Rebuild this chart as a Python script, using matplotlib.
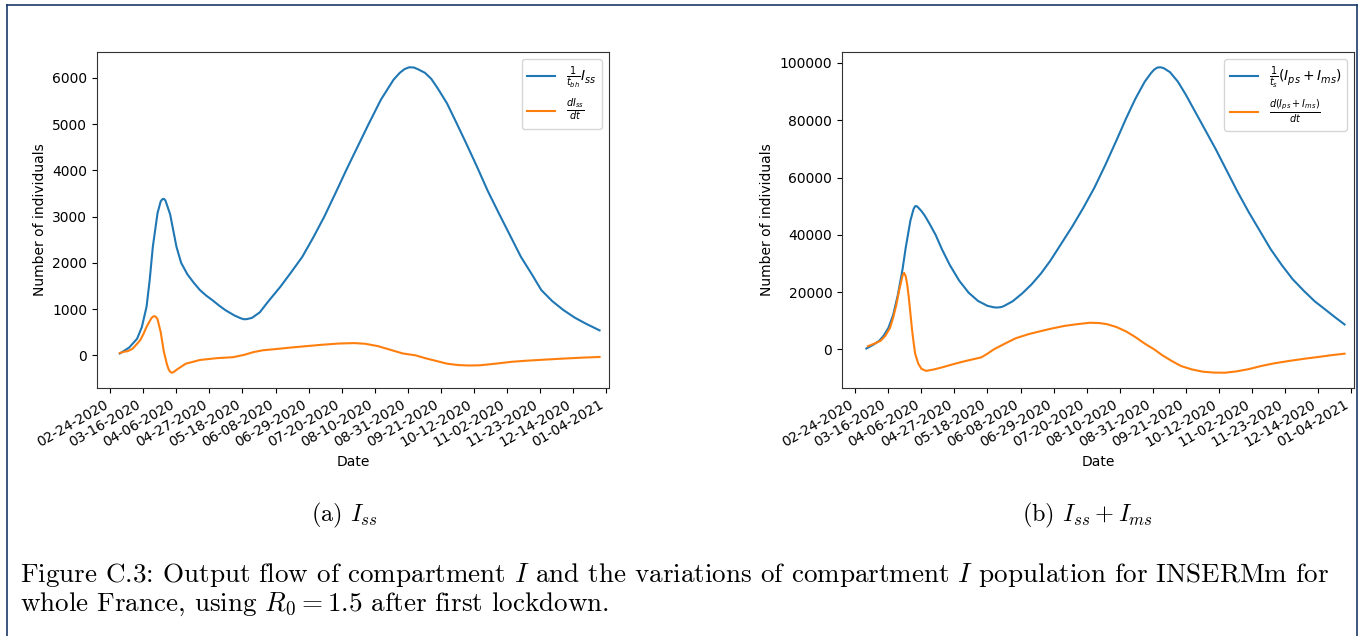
import numpy as np
import pandas as pd
import matplotlib
matplotlib.use('Agg')
import matplotlib.pyplot as plt
from matplotlib.lines import Line2D

start = pd.Timestamp('2020-02-24')

tick_labels = ['02-24-2020', '03-16-2020', '04-06-2020', '04-27-2020', '05-18-2020',
               '06-08-2020', '06-29-2020', '07-20-2020', '08-10-2020', '08-31-2020',
               '09-21-2020', '10-12-2020', '11-02-2020', '11-23-2020', '12-14-2020',
               '01-04-2021']

# (a) I_ss  -- days since 02-24-2020
a_blue_day = [6, 12, 17, 20, 23, 25, 27, 30, 32, 33, 34, 35, 36, 38, 40, 42, 45, 49, 53, 57,
              61, 65, 69, 73, 79, 83, 85, 87, 90, 95, 100, 108, 115, 122, 129, 136, 143, 150,
              157, 164, 172, 180, 184, 187, 190, 193, 196, 200, 204, 208, 214, 219, 226,
              233, 240, 247, 254, 261, 268, 274, 281, 288, 295, 302, 311]
a_blue_val = [40, 170, 360, 610, 1050, 1630, 2350, 3080, 3330, 3375, 3385, 3350, 3250, 3050,
              2700, 2350, 2000, 1750, 1570, 1410, 1290, 1190, 1080, 980, 860, 800, 780, 785,
              810, 930, 1150, 1480, 1800, 2130, 2550, 3000, 3500, 4010, 4500, 4990, 5530,
              5960, 6110, 6190, 6230, 6225, 6180, 6110, 5980, 5780, 5450, 5100, 4600, 4085,
              3550, 3070, 2600, 2130, 1750, 1410, 1170, 980, 820, 690, 540]
a_orange_day = [6, 9, 11, 14, 17, 19, 21, 23, 25, 26, 27, 28, 29, 30, 32, 34, 36, 37, 38, 39,
                40, 41, 43, 48, 57, 68, 78, 85, 91, 97, 105, 115, 125, 135, 145, 155, 162,
                170, 178, 186, 194, 200, 207, 214, 221, 228, 235, 245, 255, 265, 275, 288,
                300, 311]
a_orange_val = [50, 80, 90, 140, 250, 330, 460, 615, 740, 800, 835, 848, 830, 780, 500, 80,
                -200, -300, -355, -376, -365, -340, -290, -180, -100, -60, -40, 10, 70, 110,
                135, 170, 200, 230, 255, 265, 250, 200, 120, 40, 0, -60, -120, -180, -210,
                -220, -215, -180, -140, -115, -95, -70, -50, -35]

# (b) I_ss + I_ms
b_blue_day = [7, 11, 15, 18, 21, 24, 27, 30, 32, 35, 37, 38, 39, 40, 42, 44, 47, 51, 55, 60,
              66, 72, 78, 84, 88, 90, 93, 95, 100, 106, 112, 118, 124, 131, 138, 145, 152,
              159, 166, 172, 178, 184, 188, 190, 192, 194, 196, 200, 205, 210, 216, 222,
              229, 236, 243, 250, 257, 264, 271, 278, 285, 292, 299, 305, 311]
b_blue_val = [300, 1500, 2900, 4800, 7500, 12000, 19000, 28000, 35500, 45000, 49000, 50000,
              50000, 49500, 48300, 46800, 44000, 40000, 35000, 29500, 24000, 19800, 16900,
              15200, 14700, 14600, 14800, 15300, 16800, 19500, 22700, 26500, 31000, 37000,
              43000, 49500, 56500, 64500, 73000, 80500, 87500, 93500, 96500, 97700, 98400,
              98500, 98200, 96800, 93500, 89000, 83000, 77000, 70000, 62500, 55000, 48000,
              41500, 35000, 29500, 24500, 20500, 16800, 13800, 11200, 8700]
b_orange_day = [8, 12, 16, 19, 22, 24, 26, 28, 30, 31, 32, 33, 34, 35, 36, 37, 38, 40, 42, 45,
                50, 55, 62, 69, 76, 80, 84, 88, 95, 102, 110, 118, 125, 133, 141, 149, 155,
                160, 166, 172, 178, 184, 190, 195, 201, 207, 214, 221, 228, 235, 242, 250,
                258, 266, 275, 285, 295, 303, 311]
b_orange_val = [1100, 2000, 3000, 4700, 7500, 11000, 15500, 21000, 25800, 26700, 25500, 22500,
                18000, 12500, 7000, 2500, -1500, -5000, -6800, -7500, -7000, -6300, -5200,
                -4200, -3300, -2800, -1500, 0, 2000, 3900, 5300, 6400, 7300, 8200, 8800,
                9300, 9200, 8800, 7800, 6300, 4300, 2000, 0, -2000, -4000, -5800, -7000,
                -7800, -8100, -8150, -7700, -6900, -5800, -4900, -4100, -3300, -2600, -2000,
                -1500]


def to_dates(days):
    return start + pd.to_timedelta(np.asarray(days, dtype=float), unit='D')


W, H = 1365, 636
fig = plt.figure(figsize=(W / 100, H / 100), dpi=100)


def draw_panel(left_px, bd, bv, od, ov, lab_b, lab_o):
    ax = fig.add_axes([left_px / W, 1 - 388 / H, 512 / W, 336 / H])
    ax.plot(to_dates(bd), bv, color='tab:blue', lw=1.5, label=lab_b)
    ax.plot(to_dates(od), ov, color='tab:orange', lw=1.5, label=lab_o)
    ticks = pd.to_datetime(tick_labels, format='%m-%d-%Y')
    ax.set_xticks(ticks)
    ax.set_xticklabels(tick_labels, rotation=30, ha='right')
    ax.set_xlim(to_dates([-8.5])[0], to_dates([317])[0])
    ax.set_xlabel('Date')
    ax.set_ylabel('Number of individuals')
    ax.legend(loc='upper right')
    for s in ax.spines.values():
        s.set_color('#333333')
    return ax


draw_panel(97, a_blue_day, a_blue_val, a_orange_day, a_orange_val,
           r'$\frac{1}{t_{bh}}I_{ss}$', r'$\frac{dI_{ss}}{dt}$')
draw_panel(842, b_blue_day, b_blue_val, b_orange_day, b_orange_val,
           r'$\frac{1}{t_s}(I_{ps}+I_{ms})$', r'$\frac{d(I_{ps}+I_{ms})}{dt}$')

# page frame
frame = '#1a3a6a'
fig.add_artist(Line2D([7 / W, 1357 / W], [1 - 4.5 / H] * 2, transform=fig.transFigure, color=frame, lw=1.2))
fig.add_artist(Line2D([7 / W] * 2, [0, 1 - 4.5 / H], transform=fig.transFigure, color=frame, lw=1.2))
fig.add_artist(Line2D([1357 / W] * 2, [0, 1 - 4.5 / H], transform=fig.transFigure, color=frame, lw=1.2))

cap = dict(family='cmr10', math_fontfamily='cm')
fig.text(344 / W, 1 - 515 / H, r'(a) $I_{ss}$', ha='center', va='center', fontsize=17.5, **cap)
fig.text(1087 / W, 1 - 515 / H, r'(b) $I_{ss} + I_{ms}$', ha='center', va='center', fontsize=17.5, **cap)
fig.text(20 / W, 1 - 582 / H,
         r'Figure C.3: Output flow of compartment $I$ and the variations of compartment $I$ population for INSERMm for',
         ha='left', va='baseline', fontsize=19.5, **cap)
fig.text(20 / W, 1 - 611 / H, r'whole France, using $R_0 = 1.5$ after first lockdown.',
         ha='left', va='baseline', fontsize=19.5, **cap)

fig.savefig('out.png', dpi=100)
